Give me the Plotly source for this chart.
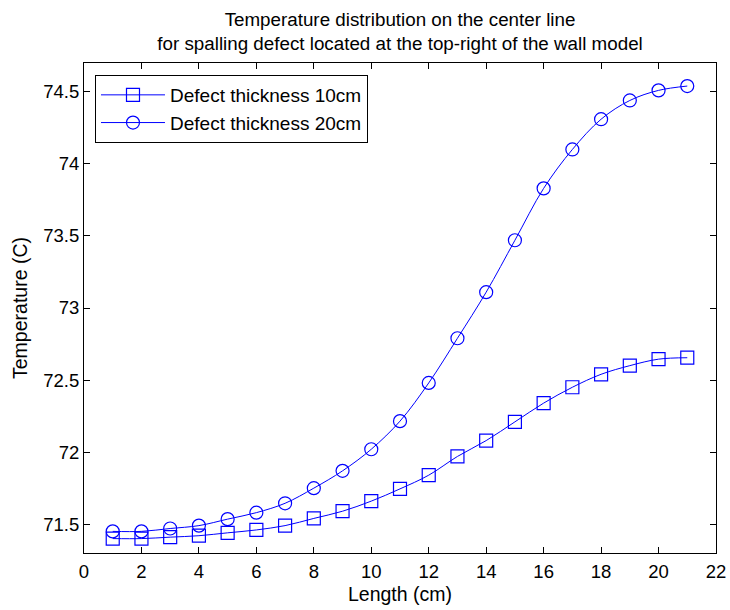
import plotly.graph_objects as go

length_cm = list(range(1, 22))
temp_10cm = [71.40, 71.40, 71.41, 71.42, 71.44, 71.46, 71.49, 71.54, 71.59, 71.66,
             71.745, 71.84, 71.97, 72.08, 72.21, 72.34, 72.45, 72.54, 72.60, 72.645, 72.655]
temp_20cm = [71.45, 71.45, 71.47, 71.49, 71.535, 71.58, 71.645, 71.75, 71.87, 72.02,
             72.215, 72.48, 72.79, 73.11, 73.47, 73.83, 74.10, 74.31, 74.44, 74.51, 74.54]

x_ticks = list(range(0, 23, 2))
y_ticks = [71.5, 72, 72.5, 73, 73.5, 74, 74.5]

blue = "#0000FF"
font = "Liberation Sans, Arial, sans-serif"

fig = go.Figure()
fig.add_trace(go.Scatter(
    x=length_cm, y=temp_10cm, name="Defect thickness 10cm",
    mode="lines+markers", line=dict(color=blue, width=1, shape="spline"),
    marker=dict(symbol="square-open", size=13, color=blue, line=dict(width=1.2, color=blue)),
))
fig.add_trace(go.Scatter(
    x=length_cm, y=temp_20cm, name="Defect thickness 20cm",
    mode="lines+markers", line=dict(color=blue, width=1, shape="spline"),
    marker=dict(symbol="circle-open", size=13, color=blue, line=dict(width=1.2, color=blue)),
))

axis_common = dict(
    showline=True, linecolor="black", linewidth=1, mirror="ticks",
    ticks="inside", ticklen=6, tickcolor="black", tickwidth=1,
    showgrid=False, zeroline=False, automargin=False,
    tickfont=dict(family=font, size=18.5, color="black"),
)

fig.update_layout(
    width=730, height=610,
    margin=dict(l=84, r=14, t=63, b=57),
    paper_bgcolor="white", plot_bgcolor="white",
    font=dict(family=font, size=18.5, color="black"),
    title=dict(
        text="Temperature distribution on the center line<br>for spalling defect located at the top-right of the wall model",
        x=0.548, xanchor="center", y=0.958, yanchor="top",
        font=dict(family=font, size=18.8, color="black"),
    ),
    xaxis=dict(range=[0, 22], tickvals=x_ticks, ticklabelstandoff=2, **axis_common,
               title=dict(text="Length (cm)", font=dict(family=font, size=19.5), standoff=6)),
    yaxis=dict(range=[71.3, 74.7], tickvals=y_ticks, **axis_common,
               title=dict(text="Temperature (C)", font=dict(family=font, size=19.5), standoff=10)),
    legend=dict(
        x=0.0174, y=0.9755, xanchor="left", yanchor="top",
        bgcolor="white", bordercolor="black", borderwidth=1,
        itemwidth=64,
        font=dict(family=font, size=19, color="black"),
    ),
)

fig.write_html("out.html")
